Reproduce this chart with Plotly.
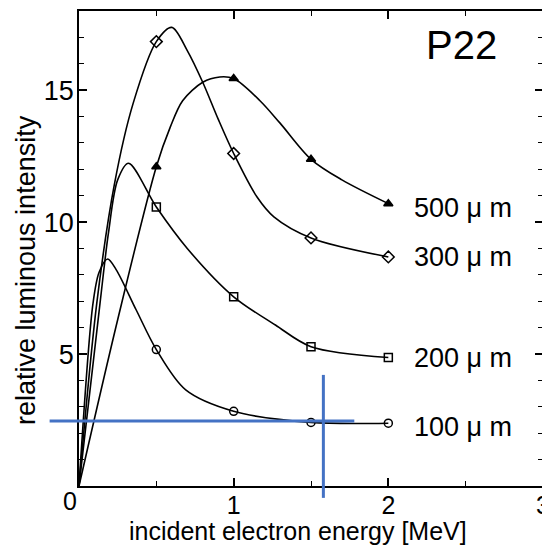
import plotly.graph_objects as go

# ---------------- data ----------------
thickness_labels = ["100 μ m", "200 μ m", "300 μ m", "500 μ m"]

# measured points (markers)
energy_pts = [0.5, 1.0, 1.5, 2.0]
int_100 = [5.17, 2.83, 2.41, 2.38]
int_200 = [10.57, 7.17, 5.28, 4.87]
int_300 = [16.84, 12.6, 9.4, 8.68]
int_500 = [12.1, 15.44, 12.38, 10.7]

# smooth curve knots
curve_e_100 = [0, 0.09, 0.13, 0.185, 0.24, 0.37, 0.5, 0.69, 1.0, 1.5, 2.0]
curve_i_100 = [0, 6.9, 8.1, 8.6, 8.2, 6.67, 5.17, 3.64, 2.83, 2.41, 2.38]
curve_e_200 = [0, 0.136, 0.19, 0.25, 0.32, 0.5, 0.7, 1.0, 1.27, 1.5, 2.0]
curve_i_200 = [0, 6.93, 9.57, 11.6, 12.23, 10.57, 9.0, 7.17, 6.1, 5.28, 4.87]
curve_e_300 = [0, 0.115, 0.23, 0.35, 0.5, 0.6, 0.7, 0.8, 0.9, 1.0, 1.15, 1.26, 1.5, 2.0]
curve_i_300 = [0, 6.93, 11.47, 14.5, 16.84, 17.38, 16.5, 15.3, 13.9, 12.6, 10.96, 10.2, 9.4, 8.68]
curve_e_500 = [0, 0.25, 0.5, 0.59, 0.67, 0.8, 0.91, 1.0, 1.17, 1.3, 1.5, 1.7, 2.0]
curve_i_500 = [0, 6.3, 12.1, 13.6, 14.6, 15.3, 15.5, 15.44, 14.6, 13.75, 12.38, 11.6, 10.7]

# label anchor heights (energy 2.15 MeV)
label_x = 2.15
label_y = [2.23, 4.85, 8.67, 10.55]

# blue reference cross (data units)
cross_h_y = 2.46
cross_h_x = [-0.19, 1.78]
cross_v_x = 1.58
cross_v_y = [-0.45, 4.21]

x_range = [0, 3]
y_range = [0, 18]

x_ticks = [0, 1, 2, 3]
x_ticktext = ["", "1", "2", "3"]
y_ticks = [0, 5, 10, 15]
y_ticktext = ["", "5", "10", "15"]

FONT = "Liberation Sans, Arial, Helvetica, sans-serif"

fig = go.Figure()

curves = [
    (curve_e_100, curve_i_100, int_100, "circle-open"),
    (curve_e_200, curve_i_200, int_200, "square-open"),
    (curve_e_300, curve_i_300, int_300, "diamond-open"),
    (curve_e_500, curve_i_500, int_500, "triangle-up"),
]
for ce, ci, pts, sym in curves:
    fig.add_trace(go.Scatter(x=ce, y=ci, mode="lines",
                             line=dict(color="black", width=1.6, shape="spline", smoothing=0.9),
                             hoverinfo="skip", showlegend=False))
    fig.add_trace(go.Scatter(x=energy_pts, y=pts, mode="markers",
                             marker=dict(symbol=sym, size=8 if sym != "diamond-open" else 9,
                                         color="black",
                                         line=dict(color="black", width=1.5)),
                             showlegend=False))

for lab, ly in zip(thickness_labels, label_y):
    fig.add_annotation(x=label_x, y=ly, xref="x", yref="y", text=lab, showarrow=False,
                       xanchor="left", yanchor="middle",
                       font=dict(family=FONT, size=27, color="black"))

fig.add_annotation(x=2.47, y=16.71, xref="x", yref="y", text="P22", showarrow=False,
                   xanchor="center", yanchor="middle",
                   font=dict(family=FONT, size=40, color="black"))

# helper to convert data -> paper (so lines can run past the axes)
def px(v):
    return (v - x_range[0]) / (x_range[1] - x_range[0])

def py(v):
    return (v - y_range[0]) / (y_range[1] - y_range[0])

blue = "#4472C4"
fig.add_shape(type="line", xref="paper", yref="paper",
              x0=px(cross_h_x[0]), x1=px(cross_h_x[1]), y0=py(cross_h_y), y1=py(cross_h_y),
              line=dict(color=blue, width=3), layer="above")
fig.add_shape(type="line", xref="paper", yref="paper",
              x0=px(cross_v_x), x1=px(cross_v_x), y0=py(cross_v_y[0]), y1=py(cross_v_y[1]),
              line=dict(color=blue, width=3), layer="above")

# axis titles and corner zero
fig.add_annotation(x=0.471, y=-0.095, xref="paper", yref="paper",
                   text="incident electron energy [MeV]", showarrow=False,
                   xanchor="center", yanchor="middle",
                   font=dict(family=FONT, size=25, color="black"))
fig.add_annotation(x=-0.114, y=0.455, xref="paper", yref="paper",
                   text="relative luminous intensity", showarrow=False, textangle=-90,
                   xanchor="center", yanchor="middle",
                   font=dict(family=FONT, size=27, color="black"))
fig.add_annotation(x=-0.019, y=-0.032, xref="paper", yref="paper", text="0",
                   showarrow=False, xanchor="center", yanchor="middle",
                   font=dict(family=FONT, size=25, color="black"))

axis_common = dict(showline=True, linecolor="black", linewidth=1.5, mirror="allticks",
                   ticks="inside", ticklen=8, tickwidth=1.5, tickcolor="black",
                   showgrid=False, zeroline=False, automargin=False,
                   ticklabeloverflow="allow")

fig.update_xaxes(range=x_range, tickvals=x_ticks, ticktext=x_ticktext, ticklabelstandoff=-4,
                 tickfont=dict(family=FONT, size=25, color="black"),
                 minor=dict(dtick=0.5, ticks="inside", ticklen=5, tickwidth=1.2, tickcolor="black"),
                 **axis_common)
fig.update_yaxes(range=y_range, tickvals=y_ticks, ticktext=y_ticktext, ticklabelstandoff=-2,
                 tickfont=dict(family=FONT, size=27, color="black"),
                 minor=dict(dtick=1, ticks="inside", ticklen=5, tickwidth=1.2, tickcolor="black"),
                 **axis_common)

# the page body adds an 8 px offset, so the figure is sized/margined to compensate
fig.update_layout(width=542, height=537, margin=dict(l=71, r=7, t=3, b=59),
                  plot_bgcolor="white", paper_bgcolor="white",
                  font=dict(family=FONT, color="black"))

fig.write_html("out.html")
